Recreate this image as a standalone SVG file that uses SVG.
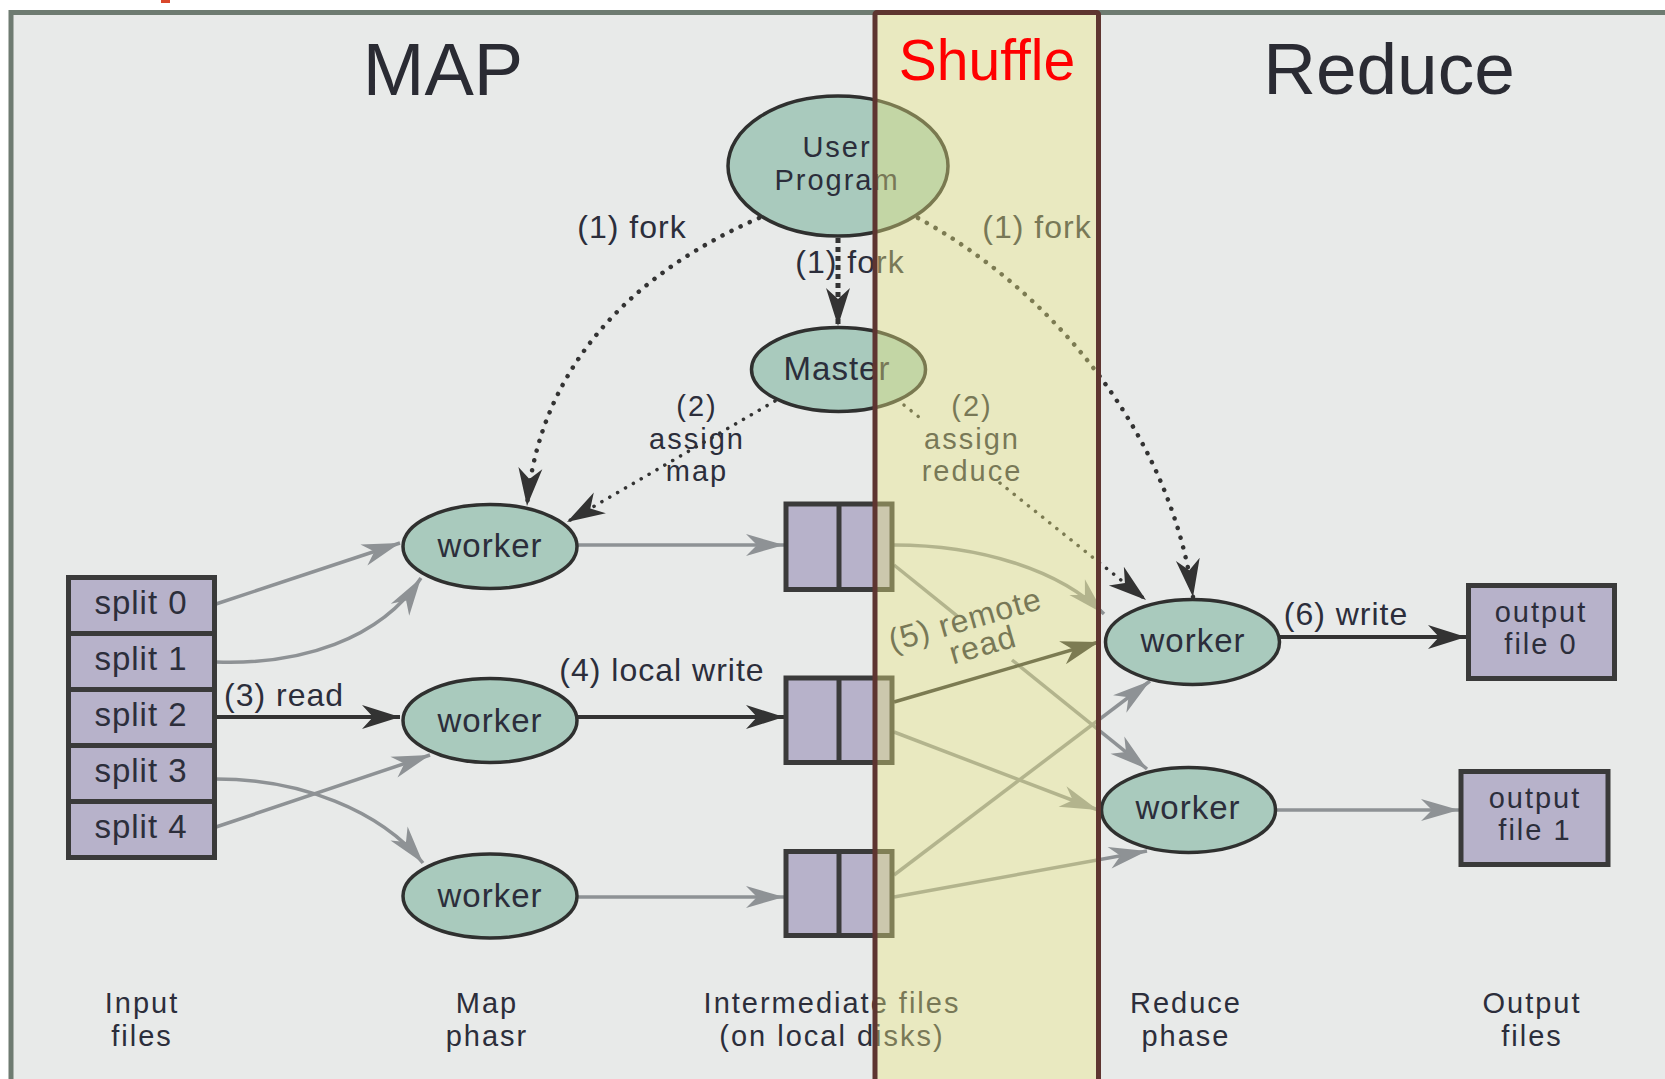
<svg xmlns="http://www.w3.org/2000/svg" width="1665" height="1079" viewBox="0 0 1665 1079">
  <style>
    .t { font-family: "Liberation Sans", Arial, sans-serif; font-size: 32px; fill: #2c2e3b; text-anchor: middle; letter-spacing: 1px; }
    .m { font-family: "Liberation Sans", Arial, sans-serif; font-size: 29px; fill: #2c2e3b; text-anchor: middle; letter-spacing: 2px; }
    .n { font-family: "Liberation Sans", Arial, sans-serif; font-size: 33px; fill: #2c2e3b; text-anchor: middle; letter-spacing: 1px; }
    .title { font-family: "Liberation Sans", Arial, sans-serif; fill: #2a2b33; text-anchor: middle; }
    .ell { fill: #a9cabd; stroke: #2f302f; stroke-width: 3.5; }
    .box { fill: #b7b2ca; stroke: #3a3a3a; stroke-width: 5; }
    .gray { fill: none; stroke: #8e9295; stroke-width: 3.5; }
    .dark { fill: none; stroke: #333333; stroke-width: 4; }
    .dot { fill: none; stroke: #333333; stroke-width: 4.5; stroke-linecap: round; stroke-dasharray: 0.1 10; }
    .dotfine { fill: none; stroke: #333333; stroke-width: 3.5; stroke-linecap: round; stroke-dasharray: 0.1 9; }
    .dotthick { fill: none; stroke: #333333; stroke-width: 5; stroke-dasharray: 5 4; }
  </style>
  <defs>
    <marker id="ahDark" markerUnits="userSpaceOnUse" viewBox="-40 -13 42 26" refX="0" refY="0" markerWidth="42" markerHeight="26" orient="auto">
      <path d="M0,0 L-38,-12 L-27,0 L-38,12 Z" fill="#333333"/>
    </marker>
    <marker id="ahGray" markerUnits="userSpaceOnUse" viewBox="-40 -13 42 26" refX="0" refY="0" markerWidth="42" markerHeight="26" orient="auto">
      <path d="M0,0 L-38,-11 L-27,0 L-38,11 Z" fill="#8e9295"/>
    </marker>
  </defs>

  <!-- page and frame -->
  <rect x="0" y="0" width="1665" height="1079" fill="#ffffff"/>
  <rect x="161" y="0" width="9" height="3" fill="#d9472b"/>
  <rect x="11" y="12.5" width="1700" height="1100" fill="#e8eae9" stroke="#6e7b71" stroke-width="5"/>

  <!-- connectors -->
  <g id="connectors">
    <path class="dot" d="M759,218 C640,270 540,360 527,506" marker-end="url(#ahDark)"/>
    <path class="dotthick" d="M838,238 L838,326" marker-end="url(#ahDark)"/>
    <path class="dot" d="M918,218 C1050,290 1170,430 1193,597" marker-end="url(#ahDark)"/>
    <path class="dotfine" d="M775,401 L567,522" marker-end="url(#ahDark)"/>
    <path class="dotfine" d="M904,405 L925,422"/>
    <path class="dotfine" d="M1000,483 L1146,600" marker-end="url(#ahDark)"/>

    <path class="gray" d="M216,604 L400,543" marker-end="url(#ahGray)"/>
    <path class="gray" d="M216,662 C300,665 380,640 421,578" marker-end="url(#ahGray)"/>
    <path class="dark" d="M216,717 L400,717" marker-end="url(#ahDark)"/>
    <path class="gray" d="M216,779 C300,779 380,810 423,863" marker-end="url(#ahGray)"/>
    <path class="gray" d="M216,827 L430,755" marker-end="url(#ahGray)"/>

    <path class="gray" d="M578,545 L784,545" marker-end="url(#ahGray)"/>
    <path class="dark" d="M578,717 L784,717" marker-end="url(#ahDark)"/>
    <path class="gray" d="M578,897 L784,897" marker-end="url(#ahGray)"/>

    <path class="gray" d="M894,545 C980,545 1060,570 1104,614" marker-end="url(#ahGray)"/>
    <path class="gray" d="M894,565 L958,616.6"/>
    <path class="gray" d="M1012,660 L1147,769" marker-end="url(#ahGray)"/>
    <path class="dark" style="stroke-width:3.5" d="M894,702 L1099,642" marker-end="url(#ahDark)"/>
    <path class="gray" d="M894,732 L1098,810" marker-end="url(#ahGray)"/>
    <path class="gray" d="M894,875 L1150,681" marker-end="url(#ahGray)"/>
    <path class="gray" d="M894,897 L1147,851" marker-end="url(#ahGray)"/>

    <path class="dark" d="M1280,637 L1466,637" marker-end="url(#ahDark)"/>
    <path class="gray" d="M1276,810 L1459,810" marker-end="url(#ahGray)"/>
  </g>

  <!-- connector labels -->
  <g id="labels">
    <text class="t" x="632" y="238">(1) fork</text>
    <text class="t" x="850" y="273">(1) fork</text>
    <text class="t" x="1037" y="238">(1) fork</text>
    <text class="m" x="697" y="416">(2)</text>
    <text class="m" x="697" y="448.5">assign</text>
    <text class="m" x="697" y="481">map</text>
    <text class="m" x="972" y="416">(2)</text>
    <text class="m" x="972" y="448.5">assign</text>
    <text class="m" x="972" y="481">reduce</text>
    <text class="t" x="284" y="706">(3) read</text>
    <text class="t" x="662" y="681">(4) local write</text>
    <g transform="rotate(-16 968 630)">
      <text class="t" x="968" y="630">(5) remote</text>
      <text class="t" x="978" y="659">read</text>
    </g>
    <text class="t" x="1346" y="625">(6) write</text>
  </g>

  <!-- nodes -->
  <g id="user-program">
    <ellipse class="ell" cx="838" cy="166" rx="110" ry="70"/>
    <text class="m" x="837" y="157">User</text>
    <text class="m" x="837" y="189.5">Program</text>
  </g>
  <g id="master">
    <ellipse class="ell" cx="838.5" cy="369.5" rx="87" ry="42"/>
    <text class="n" x="837" y="380">Master</text>
  </g>

  <g id="input-splits">
    <rect class="box" x="68.5" y="577.5" width="146" height="56"/>
    <rect class="box" x="68.5" y="633.5" width="146" height="56"/>
    <rect class="box" x="68.5" y="689.5" width="146" height="56"/>
    <rect class="box" x="68.5" y="745.5" width="146" height="56"/>
    <rect class="box" x="68.5" y="801.5" width="146" height="56"/>
    <text class="n" x="141" y="614">split 0</text>
    <text class="n" x="141" y="670">split 1</text>
    <text class="n" x="141" y="726">split 2</text>
    <text class="n" x="141" y="782">split 3</text>
    <text class="n" x="141" y="838">split 4</text>
  </g>

  <g id="map-worker-0">
    <ellipse class="ell" cx="490" cy="546.5" rx="87" ry="42"/>
    <text class="n" x="490" y="557">worker</text>
  </g>
  <g id="map-worker-1">
    <ellipse class="ell" cx="490" cy="720.5" rx="87" ry="42"/>
    <text class="n" x="490" y="732">worker</text>
  </g>
  <g id="map-worker-2">
    <ellipse class="ell" cx="490" cy="896" rx="87" ry="42"/>
    <text class="n" x="490" y="907">worker</text>
  </g>

  <g id="intermediate-0">
    <rect class="box" x="786" y="504" width="106" height="85.5"/>
    <line x1="839" y1="504" x2="839" y2="589.5" stroke="#3a3a3a" stroke-width="5"/>
  </g>
  <g id="intermediate-1">
    <rect class="box" x="786" y="678" width="106" height="84.5"/>
    <line x1="839" y1="678" x2="839" y2="762.5" stroke="#3a3a3a" stroke-width="5"/>
  </g>
  <g id="intermediate-2">
    <rect class="box" x="786" y="851.5" width="106" height="84"/>
    <line x1="839" y1="851.5" x2="839" y2="935.5" stroke="#3a3a3a" stroke-width="5"/>
  </g>

  <g id="reduce-worker-0">
    <ellipse class="ell" cx="1192.5" cy="642" rx="87" ry="42.5"/>
    <text class="n" x="1193" y="652">worker</text>
  </g>
  <g id="reduce-worker-1">
    <ellipse class="ell" cx="1188.5" cy="810" rx="87" ry="42.5"/>
    <text class="n" x="1188" y="819">worker</text>
  </g>

  <g id="output-file-0">
    <rect class="box" x="1468.5" y="585.5" width="146" height="93"/>
    <text class="m" x="1541" y="621.5">output</text>
    <text class="m" x="1541" y="654">file 0</text>
  </g>
  <g id="output-file-1">
    <rect class="box" x="1461" y="771.5" width="147" height="93"/>
    <text class="m" x="1535" y="807.5">output</text>
    <text class="m" x="1535" y="840">file 1</text>
  </g>

  <!-- column captions -->
  <g id="captions">
    <text class="m" x="142" y="1013">Input</text>
    <text class="m" x="142" y="1045.5">files</text>
    <text class="m" x="487" y="1013">Map</text>
    <text class="m" x="487" y="1045.5">phasr</text>
    <text class="m" x="832" y="1013">Intermediate files</text>
    <text class="m" x="832" y="1045.5">(on local disks)</text>
    <text class="m" x="1186" y="1013">Reduce</text>
    <text class="m" x="1186" y="1045.5">phase</text>
    <text class="m" x="1532" y="1013">Output</text>
    <text class="m" x="1532" y="1045.5">files</text>
  </g>

  <!-- shuffle band: translucent wash over the middle column -->
  <g id="shuffle-band">
    <rect x="875" y="12.5" width="223.5" height="1100" fill="rgb(236,232,130)" fill-opacity="0.4"/>
    <rect x="875" y="12.5" width="223.5" height="1100" rx="2" fill="none" stroke="#5e3530" stroke-width="5"/>
    <text x="987" y="80" font-family="Liberation Sans, Arial, sans-serif" font-size="57" fill="#ff0000" text-anchor="middle">Shuffle</text>
  </g>

  <!-- phase titles -->
  <text class="title" x="443" y="95" font-size="74">MAP</text>
  <text class="title" x="1389" y="94" font-size="73">Reduce</text>
</svg>
